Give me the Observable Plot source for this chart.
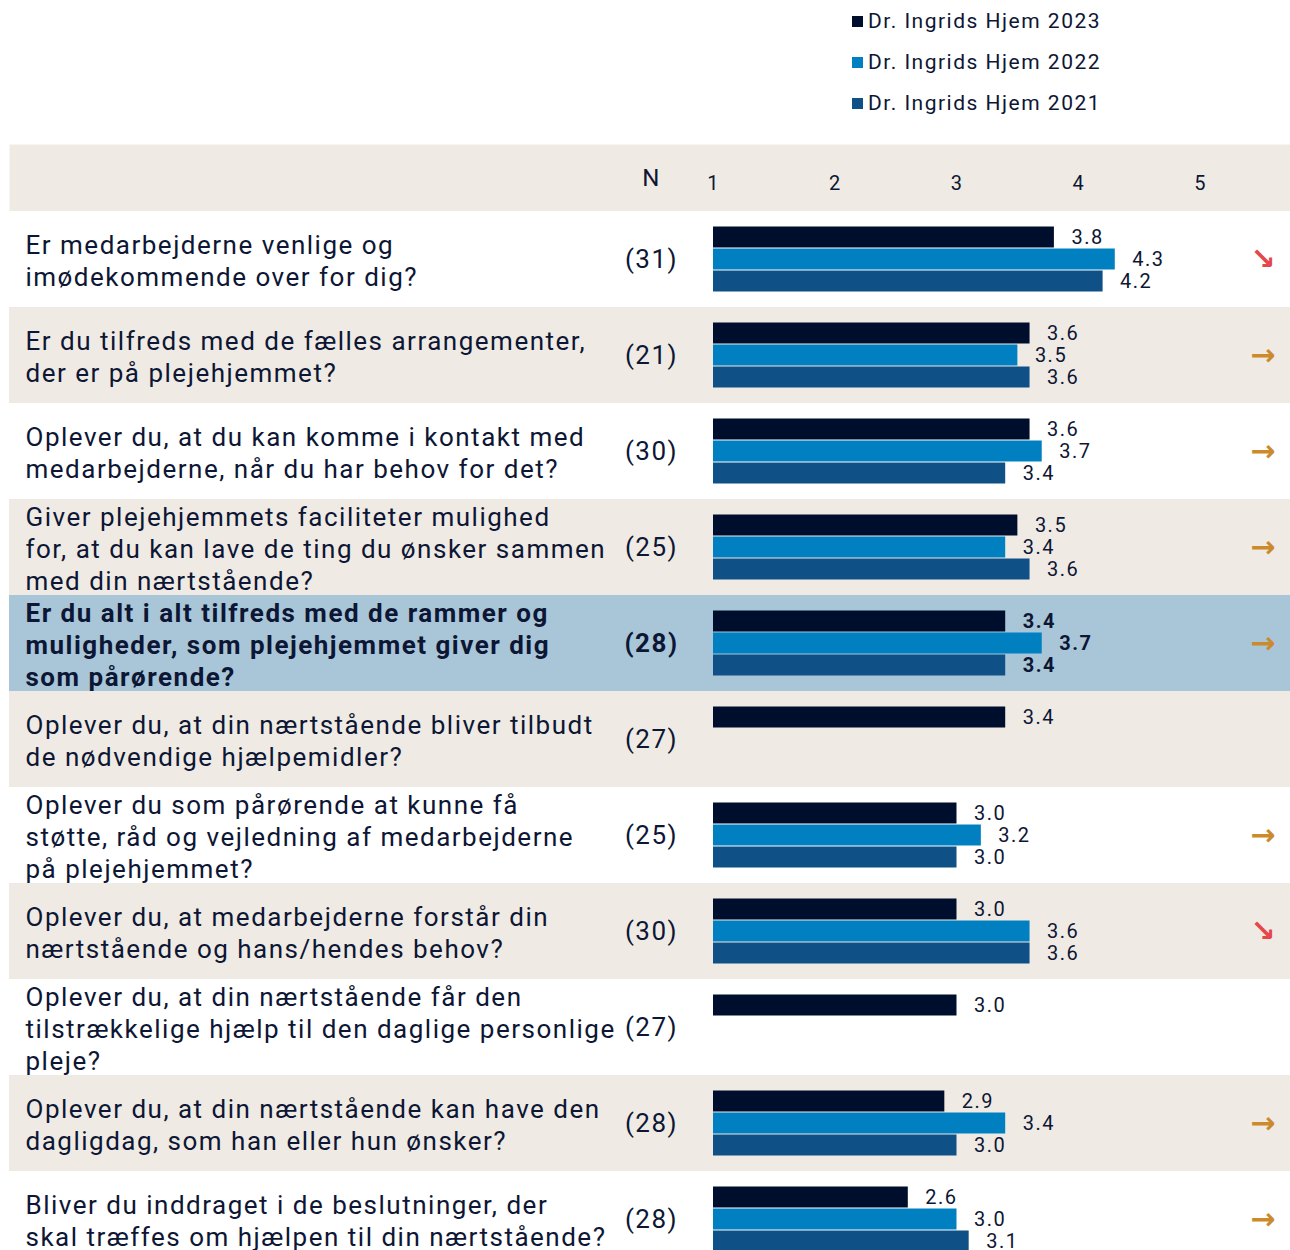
<!DOCTYPE html>
<html><head><meta charset="utf-8">
<script src="https://cdn.jsdelivr.net/npm/d3@7"></script>
<script src="https://cdn.jsdelivr.net/npm/@observablehq/plot@0.6"></script>
<style>
body{margin:0;background:#fff;overflow:hidden;font-family:Roboto, sans-serif;color:#0d1634}
#legend{position:relative;height:144px;width:1290px}
.li{position:absolute;left:852px;display:flex;align-items:center;font-size:21px;height:24px;line-height:24px;letter-spacing:1.5px}
.sw{width:11px;height:11px;margin-right:5px}
#chart svg{display:block}
</style></head><body>
<div id="legend"></div>
<div id="chart"></div>
<script>
const questions = [
  "Er medarbejderne venlige og\nimødekommende over for dig?",
  "Er du tilfreds med de fælles arrangementer,\nder er på plejehjemmet?",
  "Oplever du, at du kan komme i kontakt med\nmedarbejderne, når du har behov for det?",
  "Giver plejehjemmets faciliteter mulighed\nfor, at du kan lave de ting du ønsker sammen\nmed din nærtstående?",
  "Er du alt i alt tilfreds med de rammer og\nmuligheder, som plejehjemmet giver dig\nsom pårørende?",
  "Oplever du, at din nærtstående bliver tilbudt\nde nødvendige hjælpemidler?",
  "Oplever du som pårørende at kunne få\nstøtte, råd og vejledning af medarbejderne\npå plejehjemmet?",
  "Oplever du, at medarbejderne forstår din\nnærtstående og hans/hendes behov?",
  "Oplever du, at din nærtstående får den\ntilstrækkelige hjælp til den daglige personlige\npleje?",
  "Oplever du, at din nærtstående kan have den\ndagligdag, som han eller hun ønsker?",
  "Bliver du inddraget i de beslutninger, der\nskal træffes om hjælpen til din nærtstående?"
];
const nCounts = [31, 21, 30, 25, 28, 27, 25, 30, 27, 28, 28];
const seriesNames = ["Dr. Ingrids Hjem 2023", "Dr. Ingrids Hjem 2022", "Dr. Ingrids Hjem 2021"];
const values2023 = [3.8, 3.6, 3.6, 3.5, 3.4, 3.4, 3.0, 3.0, 3.0, 2.9, 2.6];
const values2022 = [4.3, 3.5, 3.7, 3.4, 3.7, null, 3.2, 3.6, null, 3.4, 3.0];
const values2021 = [4.2, 3.6, 3.4, 3.6, 3.4, null, 3.0, 3.6, null, 3.0, 3.1];
const trends = ["down", "flat", "flat", "flat", "flat", null, "flat", "down", null, "flat", "flat"];
const highlightIndex = 4;
const tickValues = [1, 2, 3, 4, 5];
const xDomain = [1, 5];

const seriesColors = ["#000e2d", "#0080c1", "#0f5086"];
const textColor = "#0d1634";
const beige = "#efebe4";
const hlColor = "#a8c6d8";
const trendColors = {down: "#e5474b", flat: "#cc8a2e"};
const trendGlyph = {down: "↘", flat: "→"};

// legend
const leg = document.getElementById("legend");
seriesNames.forEach((s, k) => {
  const d = document.createElement("div");
  d.className = "li";
  d.style.top = (9 + k * 41) + "px";
  d.innerHTML = `<span class="sw" style="background:${seriesColors[k]}"></span><span>${s}</span>`;
  leg.appendChild(d);
});

const W = 1290, H = 1106, headH = 67, rowH = 96;
const rows = questions.map((q, i) => ({q, i, n: nCounts[i], hl: i === highlightIndex, trend: trends[i]}));
const allValues = [values2023, values2022, values2021];
const bars = [];
allValues.forEach((arr, k) => arr.forEach((v, i) => {
  if (v != null) bars.push({q: questions[i], v, k, hl: i === highlightIndex});
}));
const offsets = [-22, 0, 22];

const marks = [
  Plot.frame({fill: beige, stroke: null, insetLeft: 9, insetBottom: H - headH}),
  Plot.cell(rows, {y: "q", fill: d => d.hl ? hlColor : (d.i % 2 ? beige : "#ffffff"), insetLeft: 9}),
  Plot.axisX(tickValues, {anchor: "top", tickSize: 0, tickPadding: 0, lineAnchor: "middle", dy: 39, fontSize: 20, color: textColor, label: null, tickFormat: d => String(d)}),
  Plot.text(["N"], {frameAnchor: "top-left", dx: 651, dy: 34, text: d => d, textAnchor: "middle", lineAnchor: "middle", fontSize: 24, fill: textColor})
];
[0, 1, 2].forEach(k => {
  const sub = bars.filter(d => d.k === k);
  marks.push(Plot.barX(sub, {x1: () => xDomain[0], x2: "v", y: "q", fill: seriesColors[k], insetTop: 37.5, insetBottom: 37.5, dy: offsets[k]}));
  [false, true].forEach(b => {
    marks.push(Plot.text(sub.filter(d => d.hl === b), {x: "v", y: "q", text: d => d.v.toFixed(1), dx: 17, dy: offsets[k], textAnchor: "start", lineAnchor: "middle", fontSize: 20, fontWeight: b ? "bold" : "normal", fill: textColor}));
  });
});
[false, true].forEach(b => {
  marks.push(Plot.text(rows.filter(d => d.hl === b), {y: "q", text: "q", frameAnchor: "left", dx: 25, textAnchor: "start", lineAnchor: "middle", lineHeight: 1.23, fontSize: 26, fontWeight: b ? "bold" : "normal", fill: textColor}));
  marks.push(Plot.text(rows.filter(d => d.hl === b), {y: "q", text: d => `(${d.n})`, frameAnchor: "left", dx: 651, textAnchor: "middle", lineAnchor: "middle", fontSize: 26, fontWeight: b ? "bold" : "normal", fill: textColor}));
});
marks.push(Plot.text(rows.filter(d => d.trend), {y: "q", text: d => trendGlyph[d.trend], frameAnchor: "right", dx: -27, textAnchor: "middle", lineAnchor: "middle", fontSize: 30, fontFamily: "DejaVu Sans", fontWeight: "bold", fill: d => trendColors[d.trend]}));

const chart = Plot.plot({
  width: W, height: H, margin: 0,
  style: {fontFamily: "Roboto, sans-serif", background: "#ffffff", overflow: "hidden", letterSpacing: "1.5px"},
  x: {domain: xDomain, range: [713, 1200]},
  y: {type: "band", domain: questions, range: [headH, headH + rowH * questions.length], padding: 0, axis: null},
  marks
});
document.getElementById("chart").appendChild(chart);
</script>
</body></html>
